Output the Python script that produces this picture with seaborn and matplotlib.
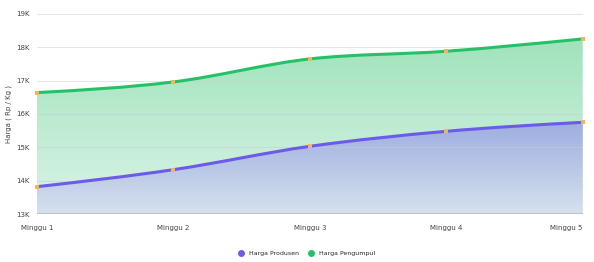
import numpy as np
import pandas as pd
import matplotlib
matplotlib.use("Agg")
import matplotlib.pyplot as plt
from matplotlib import font_manager
from matplotlib.path import Path
from matplotlib.patches import PathPatch
from matplotlib.lines import Line2D
import seaborn as sns

# data
weeks = ["Minggu 1", "Minggu 2", "Minggu 3", "Minggu 4", "Minggu 5"]
produsen = [13820, 14330, 15030, 15480, 15750]
pengumpul = [16640, 16960, 17650, 17880, 18250]
y_ticks = [13000, 14000, 15000, 16000, 17000, 18000, 19000]
y_labels = ["13K", "14K", "15K", "16K", "17K", "18K", "19K"]

df = pd.DataFrame({"week": weeks, "Harga Produsen": produsen, "Harga Pengumpul": pengumpul})
df["pos"] = np.arange(len(weeks))

sns.set_style("white")
# condensed font if there is one, the reference text is narrow
names = {f.name for f in font_manager.fontManager.ttflist}
if "Liberation Sans Narrow" in names:
    plt.rcParams["font.family"] = ["Liberation Sans Narrow", "DejaVu Sans"]
else:
    plt.rcParams["font.family"] = ["DejaVu Sans"]


def smooth_path(x, y, base=None):
    # monotone cubic bezier through the points (like d3 curveMonotoneX)
    x = np.asarray(x, float)
    y = np.asarray(y, float)
    h = np.diff(x)
    s = np.diff(y) / h
    n = len(x)
    m = np.zeros(n)
    for i in range(1, n - 1):
        p = (s[i - 1] * h[i] + s[i] * h[i - 1]) / (h[i - 1] + h[i])
        m[i] = (np.sign(s[i - 1]) + np.sign(s[i])) * min(abs(s[i - 1]), abs(s[i]), 0.5 * abs(p))
    m[0] = (3 * s[0] - m[1]) / 2
    m[-1] = (3 * s[-1] - m[-2]) / 2
    verts = [(x[0], y[0])]
    codes = [Path.MOVETO]
    for i in range(n - 1):
        d = h[i] / 3
        verts += [(x[i] + d, y[i] + m[i] * d), (x[i + 1] - d, y[i + 1] - m[i + 1] * d), (x[i + 1], y[i + 1])]
        codes += [Path.CURVE4] * 3
    if base is not None:
        verts += [(x[-1], base), (x[0], base), (x[0], y[0])]
        codes += [Path.LINETO, Path.LINETO, Path.CLOSEPOLY]
    return Path(verts, codes)


def gradient_fill(ax, x, y, top, bottom, ymax, z):
    ymin = y_ticks[0]
    patch = PathPatch(smooth_path(x, y, base=ymin), facecolor="none", edgecolor="none")
    ax.add_patch(patch)
    t = np.linspace(0, 1, 256)[:, None]
    top = np.array(matplotlib.colors.to_rgb(top))
    bottom = np.array(matplotlib.colors.to_rgb(bottom))
    img = (top * (1 - t) + bottom * t)[:, None, :]
    im = ax.imshow(img, extent=[x[0], x[-1], ymin, ymax], aspect="auto", origin="upper", zorder=z)
    im.set_clip_path(patch)


fig = plt.figure(figsize=(5.94, 2.62), dpi=100)
ax = fig.add_axes([0.062, 0.183, 0.919, 0.764])

x = df["pos"].values
gradient_fill(ax, x, df["Harga Pengumpul"].values, "#9fe3bb", "#dcf4e8", max(pengumpul), 1)
gradient_fill(ax, x, df["Harga Produsen"].values, "#9daee0", "#d6e1ee", max(produsen), 2)

green = "#25c167"
purple = "#6b5be8"
for col, c in [("Harga Pengumpul", green), ("Harga Produsen", purple)]:
    ax.add_patch(PathPatch(smooth_path(x, df[col].values), facecolor="none", edgecolor=c, lw=2.2, zorder=4, capstyle="round"))
    sns.scatterplot(data=df, x="pos", y=col, ax=ax, color="#f4b45c", marker="s", s=6, linewidth=0, zorder=5, legend=False, clip_on=False)

for yt in y_ticks:
    ax.axhline(yt, color="#c8ccd0", lw=0.6, alpha=0.6, zorder=3)
ax.axhline(y_ticks[0], color="#b4bcc4", lw=1.2, zorder=6)
ax.axvline(x[-1], color="#c8ccd0", lw=0.6, ls=(0, (2, 2)), zorder=3)

ax.set_xlim(x[0], x[-1])
ax.set_ylim(y_ticks[0], y_ticks[-1])
ax.set_xticks(x)
ax.set_xticklabels(weeks, fontsize=5, color="#444444")
ax.set_yticks(y_ticks)
ax.set_yticklabels(y_labels, fontsize=5, color="#444444")
ax.tick_params(axis="x", length=3, width=0.5, color="#c8ccd0", pad=5)
ax.tick_params(axis="y", length=0, pad=5)
ax.set_xlabel("")
ax.set_ylabel("Harga ( Rp / Kg )", fontsize=5, color="#444444", labelpad=3)
for sp in ax.spines.values():
    sp.set_visible(False)
# keep the last week label inside the picture
ax.get_xticklabels()[-1].set_ha("right")
ax.get_xticklabels()[-1].set_x(x[-1] + 0.04)

handles = [Line2D([], [], marker="o", ls="", color=purple, markersize=4),
           Line2D([], [], marker="o", ls="", color=green, markersize=4)]
fig.legend(handles, ["Harga Produsen", "Harga Pengumpul"], loc="center", bbox_to_anchor=(0.513, 0.034),
           ncol=2, frameon=False, fontsize=4.5, handletextpad=0.2, columnspacing=1.0)

fig.savefig("out.png", dpi=100)
